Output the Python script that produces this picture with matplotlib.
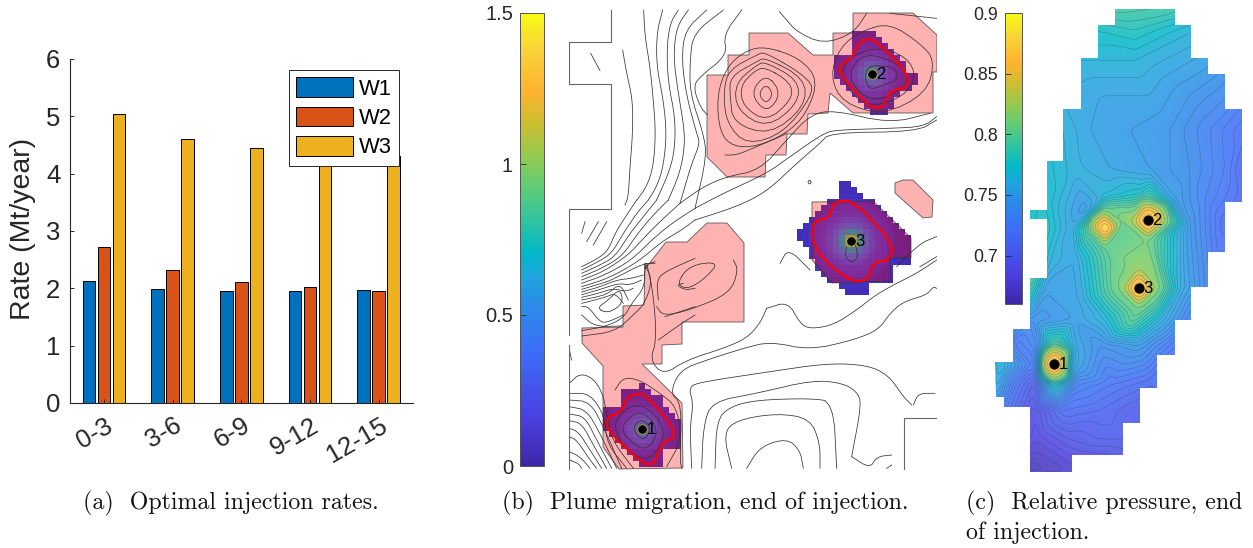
import numpy as np
import matplotlib
matplotlib.use("Agg")
import matplotlib.pyplot as plt
import matplotlib.tri as mtri
from matplotlib.colors import LinearSegmentedColormap
from matplotlib.patches import Polygon
from matplotlib.cm import ScalarMappable
from matplotlib.colors import Normalize
from matplotlib.transforms import ScaledTranslation

W, H = 1253, 548
plt.rcParams["font.family"] = ["Liberation Sans", "DejaVu Sans"]
TEXT = "#262626"

# ---------- (a) injection rates ----------
periods = ["0-3", "3-6", "6-9", "9-12", "12-15"]
wells = ["W1", "W2", "W3"]
rate_w1 = [2.12, 1.98, 1.95, 1.95, 1.965]
rate_w2 = [2.72, 2.315, 2.105, 2.02, 1.96]
rate_w3 = [5.035, 4.60, 4.44, 4.35, 4.30]
bar_colors = ["#0072BD", "#D95319", "#EDB120"]

# ---------- colour scale of (b), (c) ----------
cbar_pos = [0, 0.1, 0.25, 0.36, 0.42, 0.47, 0.55, 0.62, 0.70, 0.76, 0.83, 0.92, 1]
cbar_colors = ["#3e26a8", "#4a3fe0", "#3d6cf8", "#2a8ee8", "#1ea6dc", "#00b8c8",
               "#35c49c", "#62cd74", "#a0c848", "#cfbe30", "#ffb330", "#f9d338", "#f9fb15"]

# ---------- (b) traced outlines, pixel positions in the picture ----------
pink_a_x = [707, 728, 728, 749, 749, 788, 813, 833, 833, 853, 853, 913, 937, 937, 933, 933, 853, 830, 828, 808, 807, 787, 786, 766, 765, 727, 707]
pink_a_y = [75, 75, 55, 55, 33, 33, 55, 55, 33, 33, 13, 13, 35, 72, 72, 113, 113, 93, 113, 114, 134, 134, 155, 155, 177, 177, 157]
pink_b_x = [645, 666, 687, 707, 727, 744, 744, 682, 682, 662, 662, 642, 682, 683, 619, 603, 603, 582, 582, 623, 623, 644, 645]
pink_b_y = [269, 242, 242, 223, 223, 243, 322, 322, 344, 345, 364, 364, 403, 468, 469, 447, 366, 343, 328, 327, 306, 305, 263]
pink_c_x = [812, 873, 911, 911, 890, 890, 832, 812]
pink_c_y = [202, 201, 238, 258, 258, 281, 283, 260]
pink_d_x = [903, 913, 933, 932, 923, 895, 895]
pink_d_y = [180, 180, 200, 217, 218, 193, 183]

red_1_x = [607, 620, 628, 635, 645, 673, 674, 663, 655, 653, 643, 607, 607]
red_1_y = [417, 413, 397, 394, 394, 427, 438, 442, 460, 464, 464, 430, 417]
red_2_x = [838, 843, 852, 858, 867, 875, 907, 908, 893, 887, 883, 873, 865, 838]
red_2_y = [72, 63, 58, 43, 39, 40, 72, 87, 90, 97, 107, 108, 102, 72]
red_3_x = [833, 853, 893, 890, 873, 868, 852, 823, 811, 813, 830, 833]
red_3_y = [202, 200, 243, 260, 262, 280, 282, 260, 238, 222, 217, 202]

well_x_b = [642, 872, 851]
well_y_b = [429, 74, 241]
well_x_c = [1054, 1148, 1139]
well_y_c = [364, 220, 288]
well_names = ["1", "2", "3"]

# plume cell rows: top of row, left and right end
plume1_top = [383, 389, 395, 401, 407, 413, 419, 425, 431, 437, 443, 449, 455, 461]
plume1_left = [639, 624, 624, 624, 603, 603, 603, 603, 608, 614, 620, 627, 633, 640]
plume1_right = [646, 652, 660, 664, 670, 676, 680, 683, 683, 683, 683, 663, 663, 663]
plume2_top = [31, 37, 43, 49, 55, 61, 67, 73, 79, 85, 91, 97, 103, 109]
plume2_left = [855, 855, 853, 850, 834, 834, 834, 837, 840, 846, 855, 861, 867, 872]
plume2_right = [877, 883, 888, 893, 898, 903, 908, 915, 915, 913, 900, 895, 893, 890]
plume3_top = [181, 187, 193, 199, 205, 211, 217, 223, 229, 235, 241, 247, 253, 259, 265, 271, 277, 283, 289]
plume3_left = [840, 840, 840, 830, 822, 815, 811, 806, 797, 797, 802, 811, 811, 813, 816, 822, 830, 840, 846]
plume3_right = [852, 858, 864, 873, 879, 885, 891, 897, 903, 909, 910, 910, 910, 910, 895, 890, 890, 867, 867]

# plume value against distance from the well
plume_dist = [0, 6, 14, 25, 45, 80]
plume1_vals = [0.70, 0.50, 0.30, 0.12, 0.04, 0.0]
plume2_vals = [1.00, 0.58, 0.32, 0.13, 0.04, 0.0]
plume3_vals = [1.30, 0.85, 0.48, 0.20, 0.06, 0.0]

lines_top = [
    [(398, 150), (410, 220), (428, 300), (428, 400), (420, 500), (415, 590), (405, 615)],
    [(461, 30), (465, 110), (480, 200), (490, 300), (497, 400), (490, 500), (470, 560), (441, 600)],
    [(518, 30), (500, 100), (500, 200), (520, 300), (530, 400), (520, 500), (500, 560), (475, 600)],
    [(565, 30), (540, 70), (530, 150), (535, 250), (555, 350), (555, 440), (540, 510), (500, 600)],
    [(595, 30), (560, 80), (550, 170), (565, 280), (585, 400), (580, 470), (565, 530), (535, 600)],
    [(650, 30), (585, 90), (575, 180), (590, 290), (620, 400), (630, 430), (605, 490), (570, 610)],
    [(700, 30), (610, 100), (600, 180), (600, 280), (640, 400), (650, 470), (615, 625)],
    [(755, 30), (700, 105), (712, 165), (630, 230), (610, 260), (630, 320), (652, 345)],
    [(302, 160), (330, 212)],
    [(828, 252), (850, 282), (828, 312), (805, 282), (828, 252)],
    [(828, 220), (875, 280), (830, 340), (780, 280), (828, 220)],
    [(825, 200), (905, 250), (905, 300), (830, 365), (760, 320), (750, 260), (790, 215), (825, 200)],
    [(825, 185), (925, 240), (925, 310), (830, 385), (740, 330), (735, 250), (800, 195), (825, 185)],
    [(825, 172), (945, 235), (945, 320), (840, 405), (730, 370), (720, 290), (720, 230), (800, 185), (825, 172)],
    [(825, 155), (965, 240), (965, 290), (880, 400), (770, 435), (710, 370), (700, 280), (715, 210), (800, 165), (825, 155)],
    [(830, 140), (930, 175), (985, 240), (950, 340), (890, 400), (800, 440), (730, 440), (690, 400), (680, 290), (710, 200), (770, 150), (830, 140)],
    [(868, 35), (890, 60), (920, 95), (1000, 132), (1090, 100), (1130, 40)],
    [(705, 465), (740, 465), (800, 440), (870, 410), (890, 400)],
    [(1130, 205), (1160, 195), (1220, 205), (1222, 240), (1180, 255), (1140, 270), (1125, 240), (1130, 205)],
    [(1080, 215), (1110, 170), (1160, 165), (1240, 200), (1255, 250), (1200, 290), (1140, 300), (1090, 260), (1080, 215)],
    [(1050, 220), (1080, 170), (1160, 140), (1250, 170), (1280, 230), (1240, 290), (1150, 320), (1090, 290), (1050, 220)],
    [(1120, 90), (1200, 70), (1290, 130), (1335, 180), (1310, 280), (1180, 345), (1060, 310), (1020, 230), (1050, 140), (1120, 90)],
    [(1200, 40), (1340, 55)],
    [(615, 625), (700, 580), (830, 520), (900, 470), (1000, 400), (1040, 390), (1200, 385), (1300, 380), (1340, 350)],
    [(615, 660), (740, 620), (830, 575), (920, 490), (990, 430), (1020, 398), (1280, 395), (1340, 360)],
    [(570, 610), (640, 560), (710, 530), (810, 510), (890, 420), (960, 345), (1030, 330), (1200, 370), (1320, 340)],
    [(1070, 740), (1065, 770), (1085, 790), (1105, 770), (1095, 730)],
    [(1340, 710), (1290, 730), (1220, 800)],
    [(870, 790), (895, 745), (960, 810)],
    [(1340, 770), (1290, 800)],
    [(958, 540), (965, 548), (958, 553), (953, 546), (958, 540)],
]

# origin of crop (490, 260)
lines_bottom = [
    [(830, 145), (894, 125), (930, 190), (960, 207), (1030, 195), (1100, 150), (1150, 110), (1200, 80), (1280, 40), (1340, 0)],
    [(830, 145), (810, 190), (770, 235), (700, 265), (590, 300), (520, 345), (480, 300), (500, 240), (490, 100), (470, 10)],
    [(1340, 85), (1330, 80), (1310, 105), (1240, 125), (1200, 160), (1165, 210), (1090, 240), (960, 270), (840, 245), (760, 265), (650, 300), (570, 330), (540, 400), (575, 430), (570, 600), (575, 625)],
    [(1265, 435), (1240, 410), (1195, 345), (1130, 315), (1010, 310), (840, 335), (640, 365), (595, 380), (610, 430), (600, 500), (605, 625)],
    [(1270, 435), (1285, 400), (1335, 400)],
    [(1085, 590), (1115, 430), (1100, 395), (1060, 370), (970, 360), (800, 400), (665, 425), (640, 500), (635, 625)],
    [(675, 625), (680, 480), (720, 440), (800, 420), (960, 415), (1030, 425), (1040, 625)],
    [(725, 625), (700, 520), (740, 480), (860, 460), (960, 475), (990, 550), (990, 625)],
    [(770, 625), (810, 560), (890, 535), (930, 570), (940, 625)],
    [(1085, 590), (1140, 625), (1160, 590), (1205, 585)],
    [(1190, 625), (1205, 615)],
    [(560, 70), (600, 15), (690, 5), (640, 60), (590, 88), (560, 70)],
    [(500, 140), (520, 168), (600, 150), (720, 100), (745, 30), (730, 0)],
    [(425, 505), (455, 475), (485, 505), (460, 545), (425, 505)],
    [(390, 500), (450, 445), (510, 510), (470, 575), (415, 540), (390, 500)],
    [(365, 480), (450, 420), (535, 510), (480, 610), (400, 565), (365, 480)],
    [(375, 390), (400, 352), (450, 360), (510, 400), (560, 440), (575, 540), (530, 620)],
    [(238, 370), (270, 340), (310, 355), (338, 400), (350, 460), (365, 540), (430, 625)],
    [(238, 400), (300, 400), (345, 470), (350, 550), (410, 625)],
    [(238, 420), (300, 425), (340, 500), (395, 625)],
    [(238, 440), (290, 450), (330, 520), (380, 625)],
    [(238, 462), (285, 470), (320, 540), (365, 625)],
    [(238, 482), (275, 490), (310, 555), (350, 625)],
    [(238, 505), (265, 515), (300, 570), (335, 625)],
    [(238, 530), (260, 540), (300, 600), (320, 625)],
    [(238, 575), (270, 590), (300, 625)],
    [(238, 600), (265, 610), (275, 625)],
    [(238, 270), (245, 300)],
]

# origin of crop (565, 200)
lines_fan = [
    [(50, 100), (60, 65)],
    [(65, 125), (100, 65)],
    [(85, 135), (125, 65)],
    [(50, 200), (100, 175), (130, 150), (150, 100), (185, 45), (215, 0)],
    [(50, 210), (100, 185), (140, 160), (175, 100), (215, 40), (250, 0)],
    [(50, 220), (105, 195), (150, 170), (195, 100), (235, 50), (275, 0)],
    [(50, 230), (110, 205), (170, 170), (215, 105), (260, 50), (310, 0)],
    [(50, 240), (115, 215), (190, 165), (240, 110), (290, 60), (345, 10)],
    [(50, 250), (120, 225), (200, 180), (260, 120), (320, 70), (390, 25)],
    [(50, 260), (130, 235), (220, 185), (290, 125), (350, 90), (390, 60)],
    [(50, 268), (110, 250), (140, 240), (235, 190), (270, 190)],
    [(50, 276), (100, 262), (155, 240), (200, 235), (235, 225)],
    [(50, 284), (100, 270), (160, 250), (195, 255), (230, 240)],
    [(50, 292), (100, 280), (145, 265), (180, 275), (205, 265)],
    [(50, 300), (100, 290), (130, 280), (165, 250), (190, 300)],
    [(50, 310), (90, 300), (125, 290), (150, 280), (175, 310)],
    [(95, 325), (130, 340), (175, 310), (165, 265), (130, 300), (95, 325)],
    [(50, 320), (70, 320), (100, 360), (120, 370), (175, 345)],
    [(50, 345), (90, 380), (170, 378)],
    [(50, 392), (120, 380), (175, 355), (200, 310), (240, 260), (238, 195), (270, 185)],
    [(50, 408), (150, 395), (205, 345), (240, 310), (262, 240), (240, 195)],
    [(280, 420), (350, 370), (390, 345)],
    [(355, 250), (335, 255), (360, 270), (390, 265)],
    [(280, 300), (275, 240), (300, 215), (390, 175)],
    [(300, 350), (390, 320)],
]

# grid edges of the model seen as grey lines, pixel positions
edge_lines = [
    [(611, 10), (611, 42), (569, 42), (569, 84), (611, 84), (611, 209), (569, 209), (569, 335)],
    [(569, 345), (569, 469)],
    [(904, 469), (904, 418), (937, 418)],
]

# ---------- (c) relative pressure: outline and values ----------
field_x = [1115, 1175, 1175, 1191, 1191, 1208, 1208, 1225, 1225, 1242, 1242, 1225, 1225, 1208, 1208, 1191, 1191, 1175, 1175, 1157, 1157, 1140, 1140, 1123, 1123, 1072, 1072, 1030, 1030, 1004, 1004, 996, 995, 1013, 1013, 1030, 1030, 1047, 1047, 1030, 1030, 1047, 1047, 1063, 1063, 1081, 1081, 1098, 1098, 1115]
field_y = [9, 9, 25, 25, 58, 58, 74, 74, 109, 109, 202, 202, 252, 252, 287, 287, 320, 320, 355, 355, 388, 388, 423, 423, 455, 455, 472, 472, 407, 407, 397, 397, 362, 362, 329, 329, 278, 278, 219, 219, 210, 210, 161, 161, 109, 109, 58, 58, 25, 25]

press_x = [980, 1250, 1250, 980,
           1110, 1180, 1095, 1135, 1195, 1080, 1135, 1210, 1060, 1100, 1150, 1190, 1230,
           1055, 1090, 1130, 1170, 1210, 1245, 1040, 1075, 1110, 1150, 1190, 1225, 1245,
           1025, 1045, 1085, 1105, 1140, 1175, 1205, 1245,
           1025, 1045, 1072, 1088, 1097, 1105, 1113, 1122, 1133, 1140, 1148, 1156, 1170, 1190, 1225,
           1105, 1105, 1105, 1105, 1148, 1148, 1148, 1148,
           1030, 1050, 1075, 1105, 1122, 1132, 1139, 1146, 1156, 1180, 1210,
           1139, 1139, 1139, 1139, 1030, 1045, 1080,
           1015, 1035, 1075, 1105, 1130, 1160, 1190,
           1015, 1038, 1075, 1100, 1140, 1175,
           1054, 1047, 1061, 1054, 1054, 1054, 1054, 1035, 1072, 1000,
           997, 1015, 1035, 1075, 1110, 1150,
           1005, 1035, 1065, 1100, 1135,
           1035, 1070, 1100, 1125, 1030, 1072]
press_y = [0, 0, 480, 480,
           5, 5, 30, 30, 30, 60, 60, 60, 95, 95, 95, 95, 95,
           130, 130, 130, 130, 130, 130, 170, 170, 170, 170, 170, 170, 170,
           200, 200, 212, 195, 195, 200, 200, 200,
           228, 228, 228, 228, 228, 228, 228, 225, 222, 220, 220, 220, 222, 225, 225,
           220, 236, 208, 248, 211, 229, 200, 240,
           262, 260, 260, 262, 288, 288, 288, 288, 288, 288, 288,
           279, 297, 268, 308, 282, 292, 300,
           320, 320, 320, 320, 325, 320, 320,
           345, 345, 345, 345, 345, 345,
           364, 364, 364, 356, 372, 344, 384, 364, 364, 365,
           385, 385, 385, 385, 385, 385,
           410, 410, 410, 410, 410,
           440, 440, 440, 440, 472, 472]
press_v = [0.78, 0.74, 0.70, 0.70,
           0.795, 0.79, 0.775, 0.78, 0.765, 0.765, 0.765, 0.752, 0.76, 0.755, 0.755, 0.745, 0.735,
           0.768, 0.755, 0.75, 0.745, 0.73, 0.715, 0.775, 0.762, 0.755, 0.75, 0.74, 0.725, 0.705,
           0.77, 0.775, 0.745, 0.765, 0.775, 0.75, 0.73, 0.71,
           0.77, 0.78, 0.755, 0.80, 0.865, 0.90, 0.865, 0.80, 0.83, 0.87, 0.90, 0.87, 0.805, 0.745, 0.71,
           0.865, 0.865, 0.80, 0.80, 0.87, 0.87, 0.80, 0.81,
           0.80, 0.765, 0.755, 0.795, 0.815, 0.87, 0.905, 0.87, 0.82, 0.76, 0.73,
           0.87, 0.87, 0.82, 0.81, 0.80, 0.75, 0.755,
           0.75, 0.74, 0.75, 0.765, 0.795, 0.765, 0.73,
           0.72, 0.735, 0.755, 0.74, 0.75, 0.72,
           0.91, 0.865, 0.865, 0.87, 0.87, 0.795, 0.785, 0.72, 0.76, 0.77,
           0.76, 0.72, 0.695, 0.73, 0.72, 0.71,
           0.72, 0.685, 0.715, 0.71, 0.70,
           0.68, 0.695, 0.70, 0.70, 0.665, 0.675]

# contour levels: tighter in the low range, sparse near the wells
press_levels = list(np.arange(0.66, 0.80, 0.005)) + [0.81, 0.825, 0.84, 0.855, 0.87, 0.885]


def pixel_axes(fig, left, top, right, bottom):
    return fig.add_axes([left / W, 1 - bottom / H, (right - left) / W, (bottom - top) / H])


def trace_to_px(lines, x0, y0):
    return [[(x0 + zx / 3, y0 + zy / 3) for zx, zy in line] for line in lines]


def round_corners(xs, ys, passes=2):
    # corner cutting, only so hand traced lines do not look angular
    pts = np.column_stack([xs, ys]).astype(float)
    for _ in range(passes):
        closed = np.allclose(pts[0], pts[-1])
        q = 0.75 * pts[:-1] + 0.25 * pts[1:]
        r = 0.25 * pts[:-1] + 0.75 * pts[1:]
        cut = np.empty((2 * len(q), 2))
        cut[0::2] = q
        cut[1::2] = r
        if closed:
            pts = np.vstack([cut, cut[0]])
        else:
            pts = np.vstack([pts[0], cut, pts[-1]])
    return pts[:, 0], pts[:, 1]


def draw_plume(ax, top, left, right, well_x, well_y, vals, cmap):
    xs = np.arange(min(left), max(right) + 6, 6.0)
    ys = np.array(top + [top[-1] + 6], dtype=float)
    cells = np.ma.masked_all((len(top), len(xs) - 1))
    xc = (xs[:-1] + xs[1:]) / 2
    for i, y in enumerate(top):
        for j, x in enumerate(xc):
            if left[i] <= x <= right[i]:
                cells[i, j] = np.interp(np.hypot(x - well_x, y + 3 - well_y), plume_dist, vals)
    ax.pcolormesh(xs, ys, cells, cmap=cmap, vmin=0, vmax=1.5, zorder=1)


def draw_colorbar(fig, box, vmin, vmax, ticks, labels, cmap, size):
    cax = pixel_axes(fig, *box)
    sm = ScalarMappable(Normalize(vmin, vmax), cmap)
    cb = fig.colorbar(sm, cax=cax)
    cb.set_ticks(ticks, labels=labels)
    cax.yaxis.set_ticks_position("left")
    cax.tick_params(direction="in", length=4, width=0.6, color=TEXT, labelsize=size,
                    labelcolor=TEXT, pad=5)
    cb.outline.set_edgecolor("#555555")
    cb.outline.set_linewidth(0.7)


def draw_wells(ax, xs, ys, edge):
    ax.plot(xs, ys, "o", color="black", ms=6.8, mec=edge, mew=0.5, ls="none", zorder=6)
    for x, y, name in zip(xs, ys, well_names):
        ax.text(x + 4.5, y + 0.5, name, fontsize=12, color="black", ha="left", va="center", zorder=7)


fig = plt.figure(figsize=(W / 100, H / 100), dpi=100)
cmap = LinearSegmentedColormap.from_list("field", list(zip(cbar_pos, cbar_colors)), N=256)

# ---------- PANEL a ----------
ax1 = pixel_axes(fig, 70, 59, 413, 403)
pos = np.arange(1, len(periods) + 1)
for off, vals, col, name in zip([-0.218, 0, 0.218], [rate_w1, rate_w2, rate_w3], bar_colors, wells):
    ax1.bar(pos + off, vals, width=0.182, color=col, edgecolor="black", linewidth=0.7, label=name)
ax1.set_xlim(0.505, 5.5)
ax1.set_ylim(0, 6)
ax1.set_xticks(pos, periods)
ax1.tick_params(direction="in", length=3, width=0.7, color=TEXT, labelsize=18.5, labelcolor=TEXT)
ax1.tick_params(axis="y", pad=7)
ax1.tick_params(axis="x", pad=15)
shift = ScaledTranslation(7 / 100, 0, fig.dpi_scale_trans)
for lab in ax1.get_xticklabels():
    lab.set_rotation(30)
    lab.set_rotation_mode("anchor")
    lab.set_ha("right")
    lab.set_va("center")
    lab.set_transform(lab.get_transform() + shift)
ax1.set_ylabel("Rate (Mt/year)", fontsize=20.5, color=TEXT, va="center")
ax1.yaxis.set_label_coords((23 - 70) / 343, (403 - 228.5) / 344)
for side in ["top", "right"]:
    ax1.spines[side].set_visible(False)
for side in ["left", "bottom"]:
    ax1.spines[side].set_color(TEXT)
    ax1.spines[side].set_linewidth(0.8)
leg = ax1.legend(loc="upper left", bbox_to_anchor=((288.5 - 70) / 343, 1 - (70 - 59) / 344),
                 fontsize=15.8, frameon=True, fancybox=False, edgecolor=TEXT, framealpha=1,
                 handlelength=2.6, handleheight=1.0, labelspacing=0.32, handletextpad=0.28, borderaxespad=0,
                 borderpad=0.33)
leg.get_frame().set_linewidth(0.7)

# ---------- PANEL b ----------
draw_colorbar(fig, (520, 13, 544, 466), 0, 1.5, [0, 0.5, 1, 1.5], ["0", "0.5", "1", "1.5"], cmap, 14.5)
ax2 = pixel_axes(fig, 569, 9, 937, 470)
ax2.set_xlim(569, 937)
ax2.set_ylim(470, 9)
ax2.axis("off")
draw_plume(ax2, plume1_top, plume1_left, plume1_right, well_x_b[0], well_y_b[0], plume1_vals, cmap)
draw_plume(ax2, plume2_top, plume2_left, plume2_right, well_x_b[1], well_y_b[1], plume2_vals, cmap)
draw_plume(ax2, plume3_top, plume3_left, plume3_right, well_x_b[2], well_y_b[2], plume3_vals, cmap)
for px, py in [(pink_a_x, pink_a_y), (pink_b_x, pink_b_y), (pink_c_x, pink_c_y), (pink_d_x, pink_d_y)]:
    ax2.add_patch(Polygon(np.column_stack([px, py]), closed=True, facecolor=(1, 0, 0, 0.3),
                          edgecolor=(0.2, 0.2, 0.2, 0.8), linewidth=0.6, zorder=2))
for lines in [trace_to_px(lines_top, 490, 0), trace_to_px(lines_bottom, 490, 260), trace_to_px(lines_fan, 565, 200)]:
    for line in lines:
        xs, ys = zip(*line)
        xs, ys = round_corners(xs, ys)
        ax2.plot(xs, ys, color="#333333", lw=0.55, zorder=3, solid_joinstyle="round")
for line in edge_lines:
    xs, ys = zip(*line)
    ax2.plot(xs, ys, color="#666666", lw=0.8, zorder=3)
for rx, ry in [(red_1_x, red_1_y), (red_2_x, red_2_y), (red_3_x, red_3_y)]:
    xs, ys = round_corners(rx, ry, passes=1)
    ax2.plot(xs, ys, color="#ff0000", lw=1.6, zorder=4, solid_joinstyle="round")
draw_wells(ax2, well_x_b, well_y_b, "#c8c830")

# ---------- PANEL c ----------
draw_colorbar(fig, (1005, 13, 1022, 304), 0.66, 0.9, [0.7, 0.75, 0.8, 0.85, 0.9],
              ["0.7", "0.75", "0.8", "0.85", "0.9"], cmap, 12.8)
ax3 = pixel_axes(fig, 990, 5, 1248, 476)
ax3.set_xlim(990, 1248)
ax3.set_ylim(476, 5)
ax3.axis("off")
tri = mtri.Triangulation(press_x, press_y)
interp = mtri.LinearTriInterpolator(tri, press_v)
gx, gy = np.meshgrid(np.arange(990, 1249), np.arange(5, 477))
grid = np.ma.filled(interp(gx, gy), 0.75)
# light blur so the facets of the linear interpolation do not show
kernel = np.exp(-0.5 * (np.arange(-9, 10) / 3.0) ** 2)
kernel /= kernel.sum()
pad = np.pad(grid, 9, mode="edge")
pad = np.apply_along_axis(lambda v: np.convolve(v, kernel, mode="same"), 0, pad)
pad = np.apply_along_axis(lambda v: np.convolve(v, kernel, mode="same"), 1, pad)
grid = pad[9:-9, 9:-9]
outline = Polygon(np.column_stack([field_x, field_y]), closed=True, facecolor="none", edgecolor="none")
ax3.add_patch(outline)
img = ax3.imshow(grid, extent=(989.5, 1248.5, 476.5, 4.5), cmap=cmap, vmin=0.66, vmax=0.9, alpha=0.85, aspect="auto")
img.set_clip_path(outline)
cs = ax3.contour(gx, gy, grid, levels=press_levels, colors="#1c3a5c", linewidths=0.35, alpha=0.45)
cs.set_clip_path(outline)
ax3.set_xlim(990, 1248)
ax3.set_ylim(476, 5)
draw_wells(ax3, well_x_c, well_y_c, "black")

# ---------- captions ----------
cap = dict(family="cmr10", fontsize=17.2, color="#111111", va="center", ha="left")
fig.text(83 / W, 1 - 503 / H, "(a)  Optimal injection rates.", **cap)
fig.text(502 / W, 1 - 503 / H, "(b)  Plume migration, end of injection.", **cap)
fig.text(966 / W, 1 - 503 / H, "(c)  Relative pressure, end", **cap)
fig.text(966 / W, 1 - 533 / H, "of injection.", **cap)

fig.savefig("out.png", dpi=100)
plt.close(fig)
